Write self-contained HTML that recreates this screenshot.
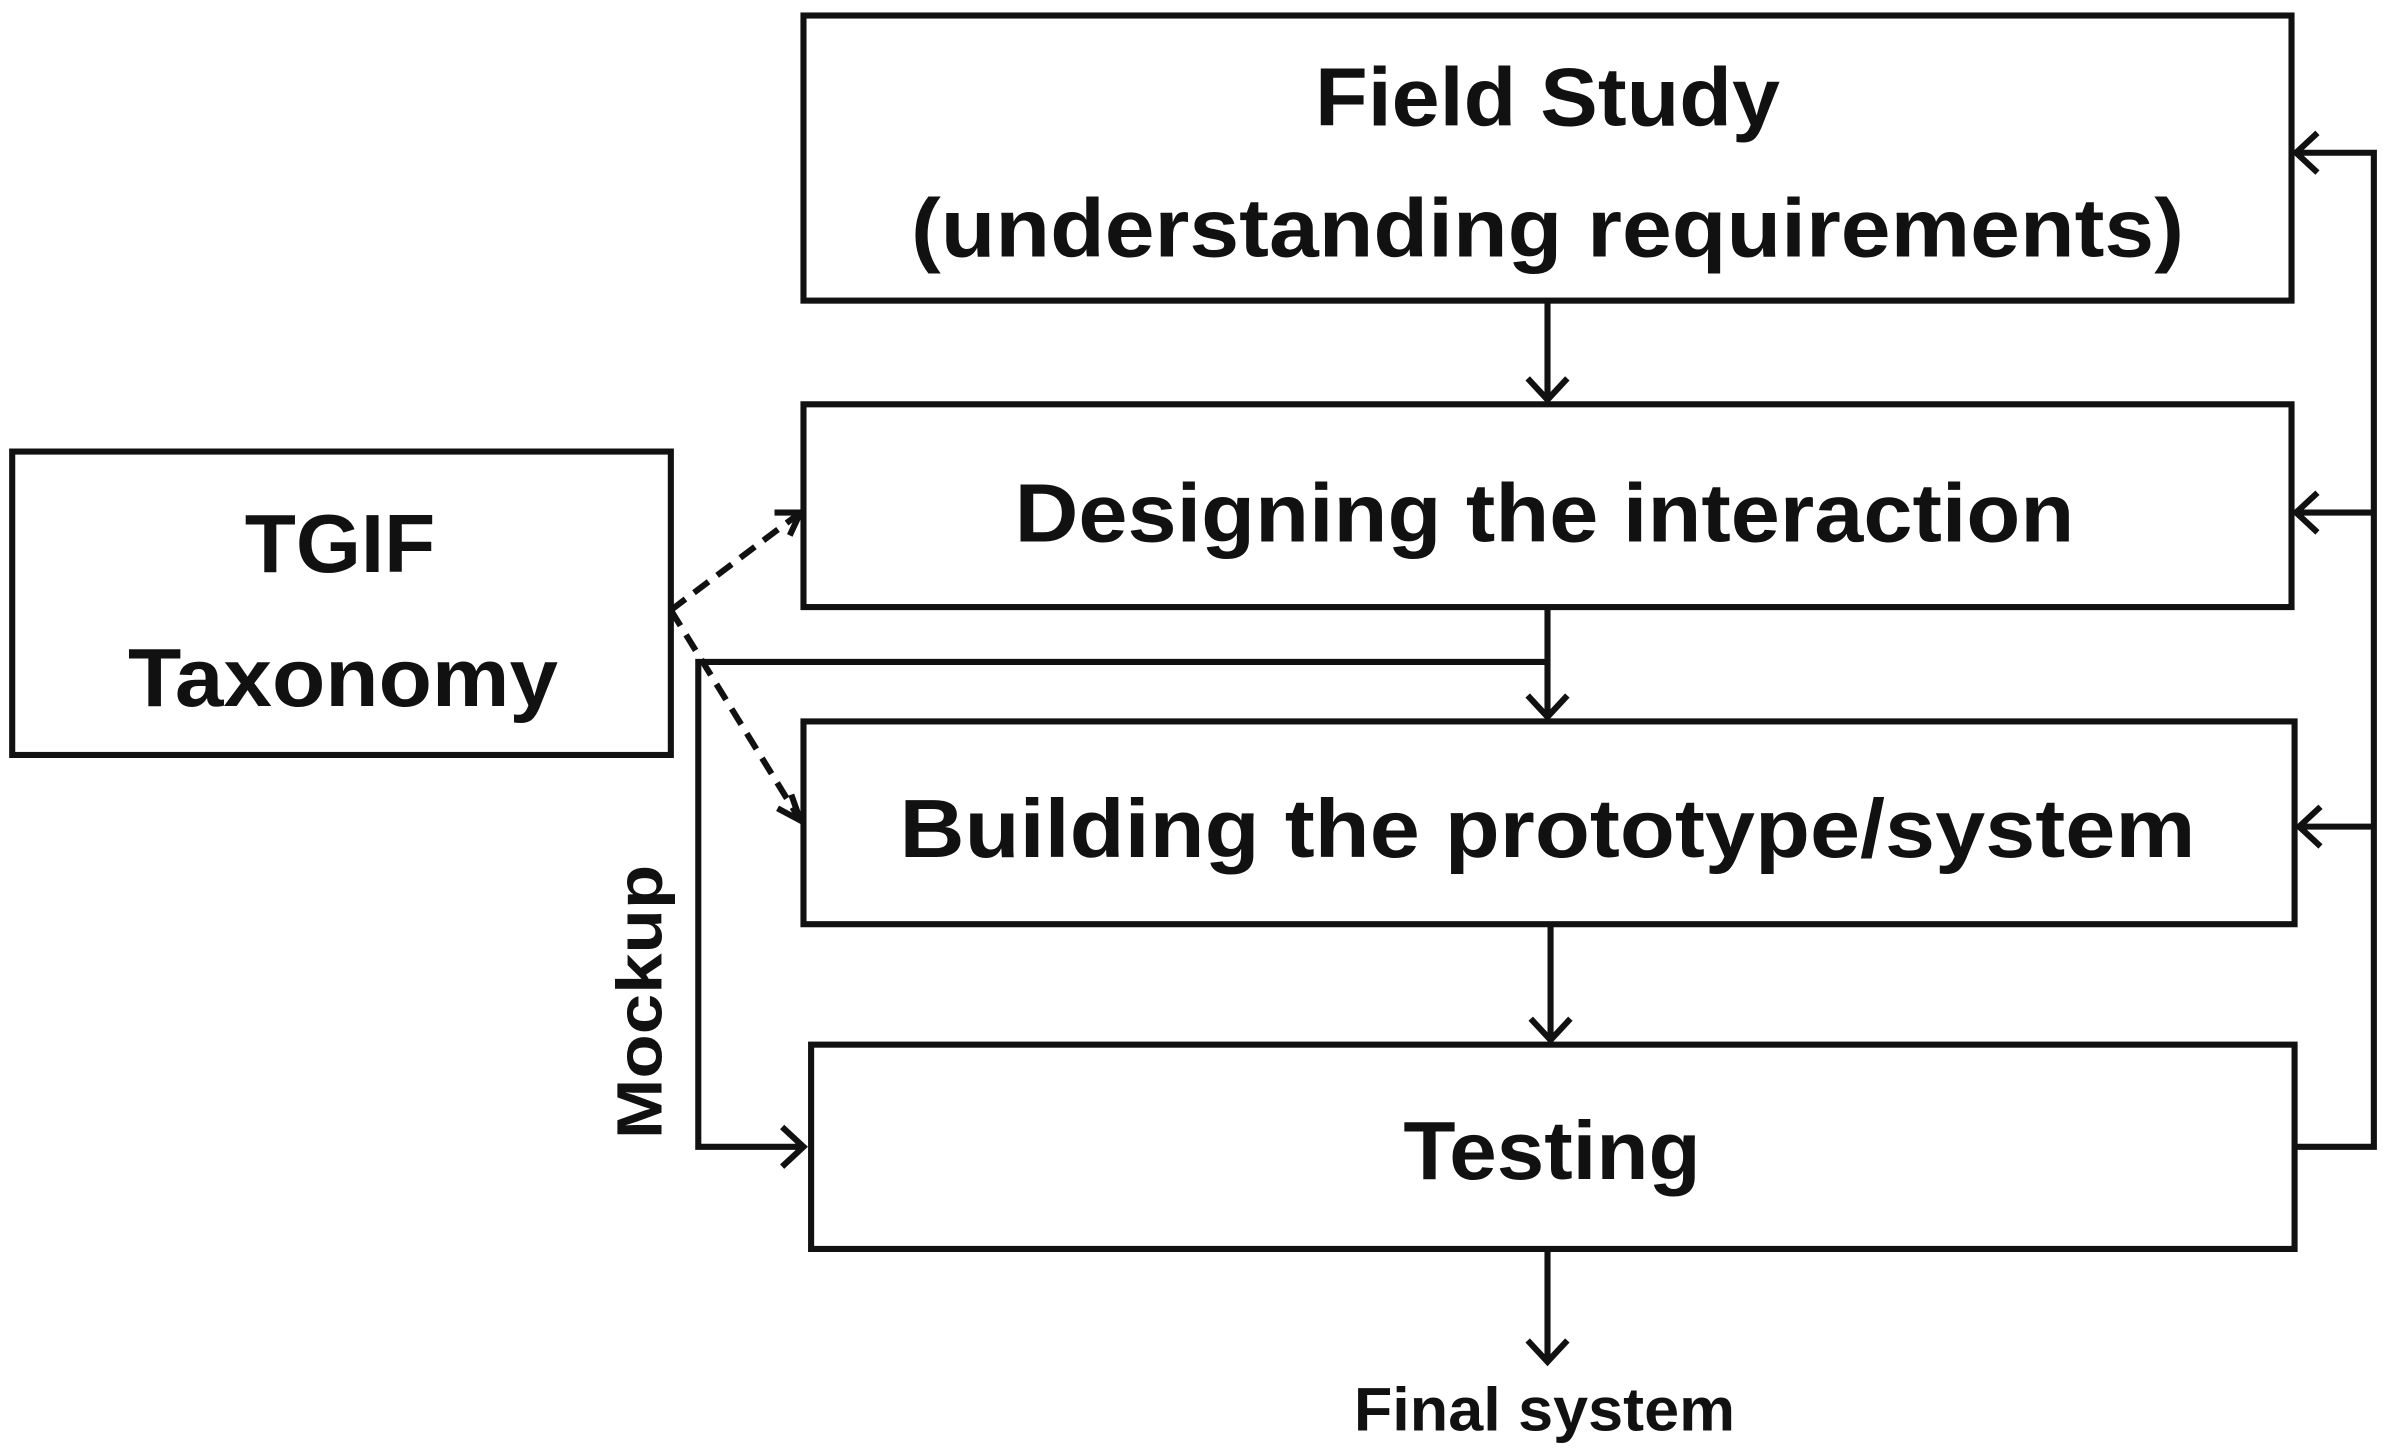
<!DOCTYPE html>
<html><head><meta charset="utf-8"><style>
html,body{margin:0;padding:0;background:#fff;}
svg{display:block;}
text{font-family:"Liberation Sans",sans-serif;font-weight:bold;fill:#111;text-anchor:middle;}
</style></head><body>
<svg width="2383" height="1452" viewBox="0 0 1563 952" xmlns="http://www.w3.org/2000/svg">
<g fill="none" stroke="#111" stroke-width="4">
<rect x="527" y="10" width="976" height="187"/>
<rect x="527" y="265" width="976" height="133"/>
<rect x="527" y="473" width="978" height="133"/>
<rect x="532" y="685" width="973" height="134"/>
<rect x="8" y="296" width="432" height="199"/>
<path d="M1015 197V262M1002 248L1015 262L1028 248"/>
<path d="M1015 398V470M1002 456L1015 470L1028 456"/>
<path d="M1017 606V682M1004 668L1017 682L1030 668"/>
<path d="M1015 819V893M1002 879L1015 893L1028 879"/>
<path d="M1015 434H458V752H527M513 739L527 752L513 765"/>
<path d="M1505 752H1557V100H1506M1520 87L1506 100L1520 113"/>
<path d="M1557 336H1506M1520 323L1506 336L1520 349"/>
<path d="M1557 542H1508M1522 529L1508 542L1522 555"/>
<path d="M440 400L525 336" stroke-dasharray="12,7"/>
<path d="M440 400L525 538" stroke-dasharray="12,7"/>
<path d="M508 336L525 336L518 351"/>
<path d="M519 521L525 538L510 530"/>
</g>
<text x="1015" y="82" font-size="54" textLength="305" lengthAdjust="spacingAndGlyphs">Field Study</text>
<text x="1015" y="168" font-size="54" textLength="835" lengthAdjust="spacingAndGlyphs">(understanding requirements)</text>
<text x="1013" y="355" font-size="54" textLength="695" lengthAdjust="spacingAndGlyphs">Designing the interaction</text>
<text x="1015" y="562" font-size="54" textLength="850" lengthAdjust="spacingAndGlyphs">Building the prototype/system</text>
<text x="1018" y="773" font-size="54" textLength="195" lengthAdjust="spacingAndGlyphs">Testing</text>
<text x="223" y="375" font-size="54" textLength="125" lengthAdjust="spacingAndGlyphs">TGIF</text>
<text x="225" y="463" font-size="54" textLength="282" lengthAdjust="spacingAndGlyphs">Taxonomy</text>
<text x="1013" y="938" font-size="40" textLength="250" lengthAdjust="spacingAndGlyphs">Final system</text>
<text x="0" y="0" font-size="42" textLength="180" lengthAdjust="spacingAndGlyphs" transform="translate(434,657) rotate(-90)">Mockup</text>
</svg>
</body></html>
